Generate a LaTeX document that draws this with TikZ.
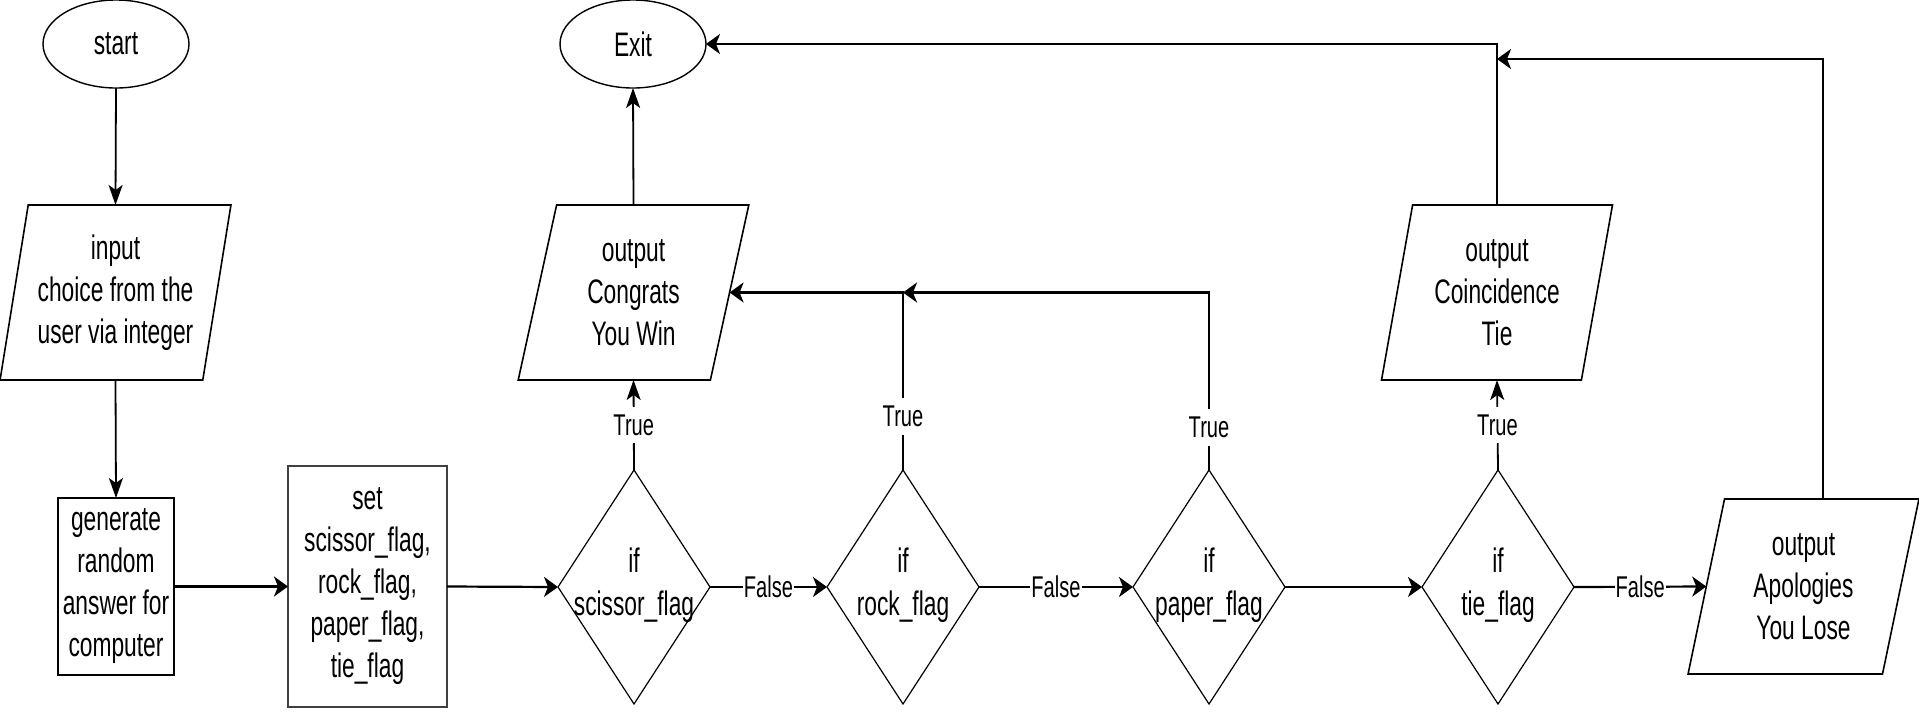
\documentclass[tikz,border=0pt]{standalone}
\usepackage{fontspec}
\setmainfont{Liberation Sans}[FakeStretch=0.67]
\usetikzlibrary{shapes.geometric,arrows.meta}

\begin{document}
\begin{tikzpicture}[x=1pt,y=-1pt,
  every node/.style={font=\fontsize{34}{40}\selectfont, inner sep=0pt, outer sep=0pt},
  terminal/.style={ellipse, draw, line width=1.4pt, minimum width=146pt, minimum height=88pt},
  io/.style={trapezium, trapezium left angle=77.75, trapezium right angle=102.25,
    trapezium stretches=true, draw, line width=1.6pt, align=center,
    font=\fontsize{34}{42}\selectfont, minimum width=231pt, minimum height=175pt},
  process/.style={rectangle, draw, line width=2pt, align=center, font=\fontsize{34}{42}\selectfont},
  decision/.style={diamond, draw, line width=1.2pt, minimum width=152pt, minimum height=234pt},
  decisiontext/.style={align=center, font=\fontsize{34}{43}\selectfont},
  vflow/.style={line width=1.8pt, -{Stealth[length=20pt,width=14pt,inset=5pt]}},
  hflow/.style={line width=2.2pt, -{Stealth[length=14pt,width=20pt,inset=4pt]}},
  branch/.style={fill=white, font=\fontsize{30}{36}\selectfont, inner xsep=1pt, inner ysep=8pt}
]

  \useasboundingbox (0,0) rectangle (1919,721);

  % Terminals
  \node[terminal] (start) at (116,44) {start};
  \node[terminal] (exit) at (633,44) {Exit};

  % Input and processing
  \node[io] (input) at (115.5,292.5) {input\\choice from the\\user via integer};
  \node[process, minimum width=116pt, minimum height=177pt] (generate) at (116,586.5)
    {generate\\random\\answer for\\computer};
  \node[process, minimum width=159pt, minimum height=241pt, line width=2.6pt, draw=black!75]
    (setflags) at (367.5,586.5) {set\\scissor\_flag,\\rock\_flag,\\paper\_flag,\\tie\_flag};

  % Decisions
  \foreach \name/\x in {scissor/634, rock/903, paper/1209, tie/1498}
  {
    \node[decision] (\name) at (\x,587) {};
    \node[decisiontext] (\name text) at (\x,585) {if\\\name\_flag};
  }

  % Outputs
  \node[io] (congrats) at (633.5,292.5) {output\\Congrats\\You Win};
  \node[io] (coincide) at (1497,292.5) {output\\Coincidence\\Tie};
  \node[io] (apologies) at (1803.5,586.5) {output\\Apologies\\You Lose};
  \coordinate (losejoin) at (1497,59);

  % Main line
  \draw[vflow] (start.south) -- (input.north);
  \draw[vflow] (input.south) -- (generate.north);
  \draw[hflow] (generate.east) -- (setflags.west);
  \draw[hflow] (setflags.east) -- (scissor.west);
  \draw[hflow] (scissor.east) -- node[branch] (false1) {False} (rock.west);
  \draw[hflow] (rock.east) -- node[branch] (false2) {False} (paper.west);
  \draw[hflow] (paper.east) -- (tie.west);
  \draw[hflow] (tie.east) -- node[branch] (false3) {False} (apologies.west);

  % True branches
  \draw[vflow] (scissor.north) -- node[branch] (true1) {True} (congrats.south);
  \draw[hflow] (rock.north) |- node[branch, pos=0.15] (true2) {True} (congrats.east);
  \draw[hflow] (paper.north) |- node[branch, pos=0.12] (true3) {True} (rock.north |- congrats.east);
  \draw[vflow] (tie.north) -- node[branch] (true4) {True} (coincide.south);

  % To exit
  \draw[vflow] (congrats.north) -- (exit.south);
  \draw[hflow] (coincide.north) |- (exit.east);
  \draw[hflow] ([xshift=19.5pt]apologies.north) |- (losejoin);

\end{tikzpicture}
\end{document}
